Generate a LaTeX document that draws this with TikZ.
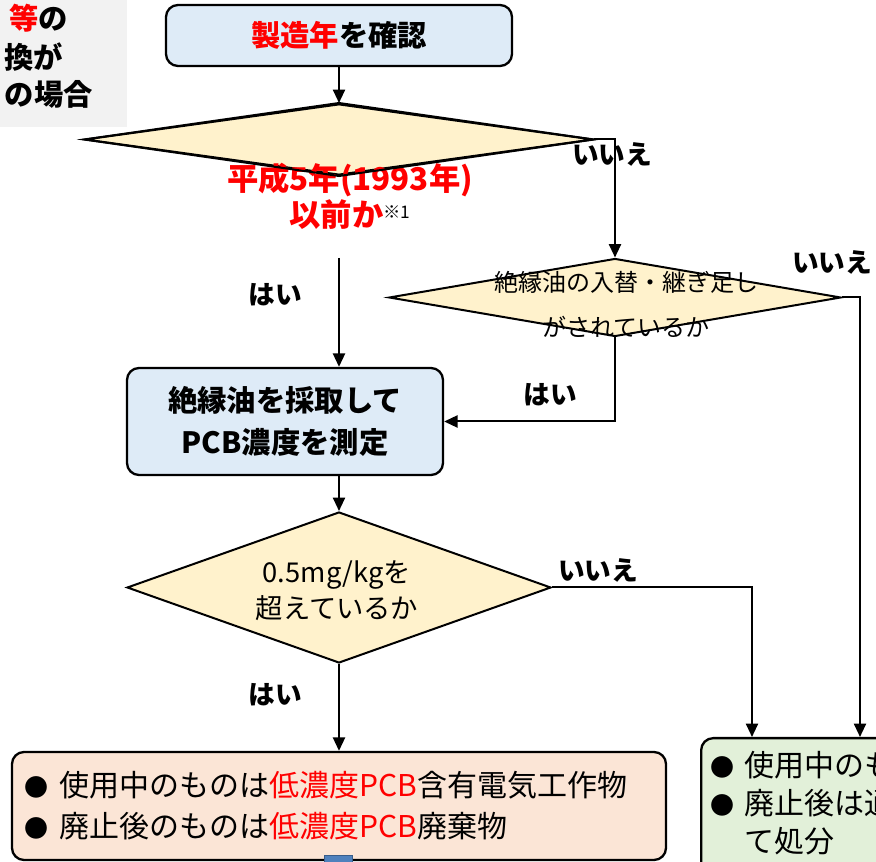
\documentclass[tikz,border=0pt]{standalone}
\usepackage{fontspec}
\setmainfont{Noto Sans CJK JP}
\usetikzlibrary{shapes.geometric,arrows.meta}
\definecolor{notegray}{HTML}{F2F2F2}
\definecolor{boxblue}{HTML}{DEEBF7}
\definecolor{askyellow}{HTML}{FFF2CC}
\definecolor{lowpink}{HTML}{FBE5D6}
\definecolor{resgreen}{HTML}{E2F0D9}
\definecolor{tailblue}{HTML}{4F81BD}
\definecolor{tailedge}{HTML}{385D8A}
\newcommand{\bul}{\makebox[26pt][l]{\fontsize{18}{18}\selectfont ●}}

\begin{document}
\begin{tikzpicture}[x=0.75pt,y=-0.75pt,
    box/.style={draw,line width=1.75pt,rounded corners=9pt,inner sep=0pt},
    ask/.style={diamond,draw,line width=1.5pt,fill=askyellow,inner sep=0pt},
    arr/.style={-{Triangle[length=10pt,width=9pt]},line width=1.5pt},
    big/.style={font=\bfseries\fontsize{22}{31.5}\selectfont,align=center,inner sep=0pt},
    yn/.style={font=\bfseries\fontsize{20}{24}\selectfont,inner sep=0pt}]
  \useasboundingbox (0,0) rectangle (876,862);
  \clip (0,0) rectangle (876,862);

  % note in the corner
  \node[fill=notegray,minimum width=145.5pt,minimum height=100.5pt,inner sep=0pt] (note) at (30,60) {};
  \node[big,anchor=east] (note1) at (68,18) {{\color{red}等}の};
  \node[big,anchor=east] (note2) at (63,57) {換が};
  \node[big,anchor=east] (note3) at (93,94) {の場合};

  % year check
  \node[box,big,fill=boxblue,minimum width=259.5pt,minimum height=45.75pt] (check) at (339,35.5) {{\color{red}製造年}を確認};
  \node[ask,minimum width=381pt,minimum height=53.25pt] (q1) at (339,139.5) {};
  \node[big,text=red,font=\bfseries\fontsize{23.5}{27}\selectfont] (q1text) at (350,196)
    {平成5年(1993年)\\以前か\raisebox{6pt}{\normalfont\color{black}\fontsize{13}{13}\selectfont ※1}};
  \draw[line width=1.5pt] (q1.north) -- (q1.east) -- (q1.south) -- (q1.west) -- cycle;
  \draw[arr] (check) -- (q1);

  % oil replaced?
  \node[yn] (no1) at (612,154) {いいえ};
  \node[ask,minimum width=339pt,minimum height=58.5pt] (q2) at (615,297.5) {};
  \node[font=\fontsize{18}{33.75}\selectfont,align=center,inner sep=0pt] (q2text) at (626,304) {絶縁油の入替・継ぎ足し\\がされているか};
  \draw[arr] (q1.east) -| (q2.north);
  \node[yn] (no2) at (832,262) {いいえ};

  % measure
  \coordinate (yesfrom) at (339,258);
  \node[yn] (yes1) at (275,295) {はい};
  \node[box,big,fill=boxblue,minimum width=237pt,minimum height=80.25pt] (meas) at (285,421.5) {絶縁油を採取して\\PCB濃度を測定};
  \draw[arr] (yesfrom) -- (yesfrom |- meas.north);
  \node[yn] (yes2) at (550,395) {はい};
  \draw[arr] (q2.south) |- (meas.east);

  % 0.5mg/kg
  \node[ask,minimum width=318pt,minimum height=113.25pt] (q3) at (339,587.5) {};
  \node[font=\fontsize{20.5}{27}\selectfont,align=center,inner sep=0pt] (q3text) at (337,591) {0.5mg/kgを\\超えているか};
  \draw[arr] (q3.north |- meas.south) -- (q3.north);
  \node[yn] (no3) at (598,570) {いいえ};
  \node[yn] (yes3) at (275,695) {はい};

  % results
  \node[box,fill=lowpink,minimum width=490.5pt,minimum height=81pt,text width=471pt,inner xsep=9.75pt,align=left,
    font=\fontsize{22.5}{30.75}\selectfont] (low) at (339,806)
    {\bul 使用中のものは{\color{red}低濃度PCB}含有電気工作物\\\bul 廃止後のものは{\color{red}低濃度PCB}廃棄物};
  \draw[arr] (q3) -- (low);
  \node[fill=tailblue,draw=tailedge,line width=0.75pt,minimum width=21pt,minimum height=15pt,anchor=north,inner sep=0pt] (nexttail) at (338,855) {};

  \node[box,fill=resgreen,anchor=north west,minimum width=240pt,minimum height=112.5pt] (res) at (700,737) {};
  \node[anchor=north west,text width=220pt,align=left,inner sep=0pt,font=\fontsize{22.5}{28.5}\selectfont] (restext) at (710,751)
    {\bul 使用中のも\\\bul 廃止後は通\\\phantom{\bul}て処分};
  \draw[arr] (q3.east) -| ([xshift=39pt]res.north west);
  \draw[arr] (q2.east) -| ([xshift=120pt]res.north west);
\end{tikzpicture}
\end{document}
